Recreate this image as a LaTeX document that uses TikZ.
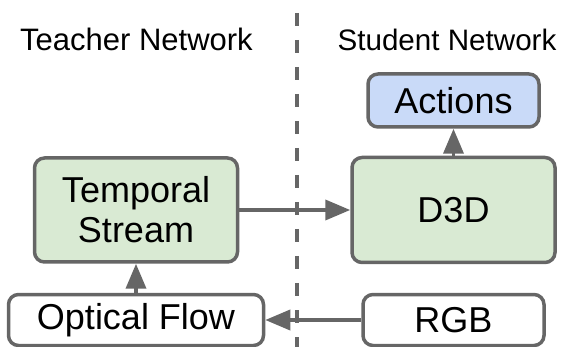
\documentclass[tikz,border=0pt]{standalone}
\usepackage{fontspec}
\setmainfont{Liberation Sans}
\usetikzlibrary{arrows.meta}
\definecolor{edgegray}{HTML}{666666}
\definecolor{boxgreen}{HTML}{D9EAD3}
\definecolor{boxblue}{HTML}{C9DAF8}
\begin{document}
\begin{tikzpicture}[x=1pt,y=-1pt,
  box/.style={draw=edgegray, line width=3.5pt, rounded corners=10pt, inner sep=0pt,
    font=\fontsize{36}{40}\selectfont, align=center, text=black},
  title/.style={anchor=base, inner sep=0pt},
  arr/.style={draw=edgegray, line width=3.8pt, -{Triangle[length=25pt,width=20pt]}},
  divider/.style={draw=edgegray, line width=3.3pt, dash pattern=on 13pt off 14pt}]
\useasboundingbox (0,0) rectangle (570,347);
\coordinate (dtop) at (297,13);
\coordinate (dbot) at (297,347);
\draw[divider] (dtop) -- (dbot);
\node[title, font=\fontsize{31}{34}\selectfont] (tn) at (136.5,51) {Teacher Network};
\node[title, font=\fontsize{29.6}{34}\selectfont] (sn) at (447,51) {Student Network};
\node[box, fill=boxgreen, minimum width=203pt, minimum height=104pt] (ts) at (136,210) {Temporal\\Stream};
\node[box, fill=boxgreen, minimum width=203pt, minimum height=105pt] (d3d) at (453.5,210) {D3D};
\node[box, fill=boxblue, minimum width=171pt, minimum height=53pt] (act) at (453.5,100.5) {Actions};
\node[box, fill=white, minimum width=255pt, minimum height=51pt] (of) at (136,320) {Optical Flow};
\node[box, fill=white, minimum width=181pt, minimum height=51pt] (rgb) at (453.5,320) {RGB};
\draw[arr] (of) -- (ts);
\draw[arr] (ts) -- (d3d);
\draw[arr] (rgb) -- (of);
\draw[arr] (d3d) -- (act);
\end{tikzpicture}
\end{document}
